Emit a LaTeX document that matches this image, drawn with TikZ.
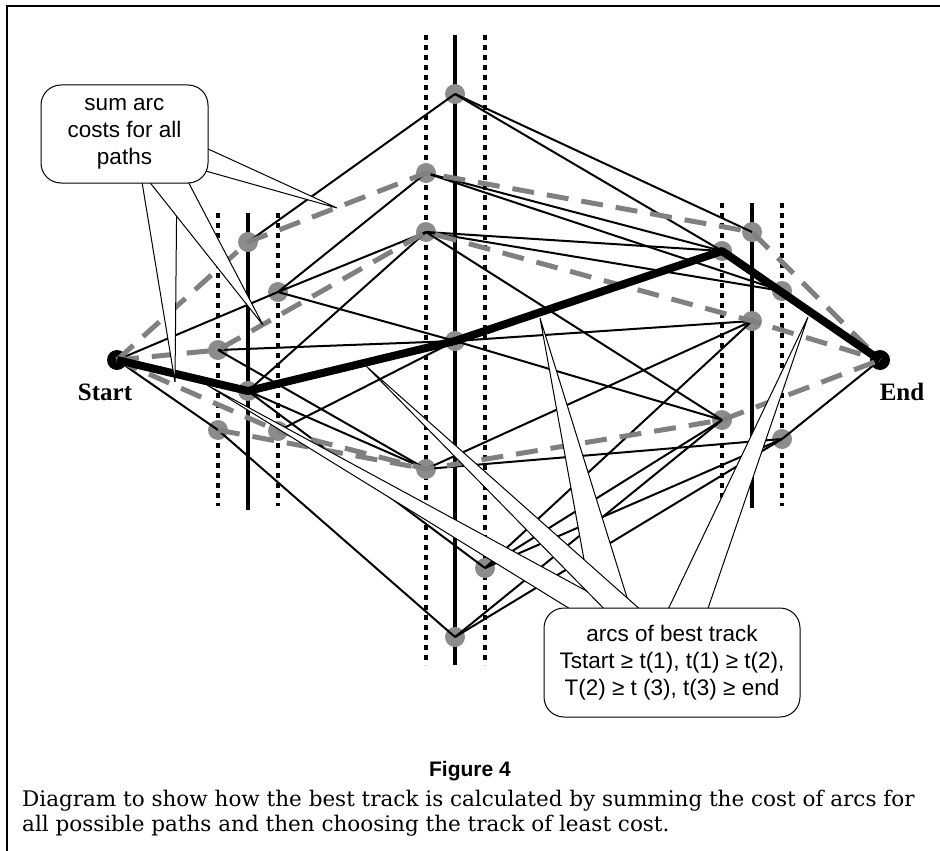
\documentclass[tikz,border=0pt]{standalone}
\usepackage{fontspec}
\setsansfont{Liberation Sans}
\newfontfamily\labelfont{Liberation Serif}
\newfontfamily\captionfont{DejaVu Serif}
\definecolor{nodegray}{RGB}{140,140,140}
\definecolor{trialgray}{RGB}{128,128,128}

\begin{document}
\begin{tikzpicture}[x=1pt,y=-1pt]
\tikzstyle{every node}+=[inner sep=0pt]
\tikzstyle{gnode}=[circle, fill=nodegray, minimum size=20pt]
\tikzstyle{endnode}=[circle, fill=black, minimum size=20pt]
\tikzstyle{arc}=[line width=2pt]
\tikzstyle{trial}=[line width=5pt, draw=trialgray, dash pattern=on 22pt off 13pt]
\tikzstyle{best}=[line width=8pt, line join=round]
\tikzstyle{axis}=[line width=4pt]
\tikzstyle{window}=[line width=4.5pt, dash pattern=on 5pt off 5pt]
\tikzstyle{tail}=[fill=white, draw=black, line width=1pt]
\tikzstyle{bubble}=[draw, fill=white, line width=1pt, rounded corners=20pt, align=center, font=\sffamily\fontsize{22.5}{27}\selectfont]
\useasboundingbox (0,0) rectangle (940,851);
% frame
\draw [line width=2pt] (7,851) -- (7,6) -- (940,6);
% time windows
\draw [window] (218,213) -- (218,506);
\draw [axis] (248,213) -- (248,510);
\draw [window] (278,213) -- (278,506);
\draw [window] (426,35) -- (426,665);
\draw [axis] (455,35) -- (455,665);
\draw [window] (485,35) -- (485,665);
\draw [window] (722,203) -- (722,506);
\draw [axis] (752,203) -- (752,508);
\draw [window] (782,203) -- (782,506);
% candidate points
\node [endnode] (start) at (117,360) {};
\node [endnode] (end) at (880,360) {};
\node [gnode] (L1) at (248,242) {};
\node [gnode] (L2) at (278,292) {};
\node [gnode] (L3) at (218,350) {};
\node [gnode] (L4) at (248,391) {};
\node [gnode] (L5) at (218,430) {};
\node [gnode] (L6) at (278,431) {};
\node [gnode] (C1) at (455,94) {};
\node [gnode] (C2) at (426,173) {};
\node [gnode] (C3) at (426,232) {};
\node [gnode] (C4) at (455,341) {};
\node [gnode] (C5) at (426,469) {};
\node [gnode] (C6) at (485,568) {};
\node [gnode] (C7) at (455,637) {};
\node [gnode] (R1) at (752,232) {};
\node [gnode] (R2) at (722,251) {};
\node [gnode] (R3) at (782,291) {};
\node [gnode] (R4) at (752,321) {};
\node [gnode] (R5) at (722,420) {};
\node [gnode] (R6) at (782,439) {};
% arcs
\draw [arc] (start.center) -- (L2.center);
\draw [arc] (start.center) -- (L5.center) -- (C7.center);
\draw [arc] (L1.center) -- (C1.center);
\draw [arc] (L2.center) -- (C2.center);
\draw [arc] (L2.center) -- (C3.center);
\draw [arc] (L2.center) -- (C4.center);
\draw [arc] (L3.center) -- (C4.center);
\draw [arc] (L3.center) -- (C5.center);
\draw [arc] (L4.center) -- (C3.center);
\draw [arc] (L4.center) -- (C5.center);
\draw [arc] (L4.center) -- (C6.center);
\draw [arc] (L6.center) -- (C4.center);
\draw [arc] (C1.center) -- (R1.center);
\draw [arc] (C1.center) -- (R2.center);
\draw [arc] (C2.center) -- (R2.center);
\draw [arc] (C2.center) -- (R3.center);
\draw [arc] (C3.center) -- (R2.center);
\draw [arc] (C3.center) -- (R3.center);
\draw [arc] (C3.center) -- (R5.center);
\draw [arc] (C4.center) -- (R4.center);
\draw [arc] (C4.center) -- (R5.center);
\draw [arc] (C5.center) -- (R4.center);
\draw [arc] (C5.center) -- (R6.center);
\draw [arc] (C6.center) -- (R4.center);
\draw [arc] (C6.center) -- (R5.center);
\draw [arc] (C6.center) -- (R6.center);
\draw [arc] (C7.center) -- (R5.center);
\draw [arc] (C7.center) -- (R6.center);
\draw [arc] (R6.center) -- (end.center);
% other tracks
\draw [trial] (start.center) -- (L1.center) -- (C2.center) -- (R1.center) -- (end.center);
\draw [trial] (start.center) -- (L3.center) -- (C3.center) -- (R4.center) -- (end.center);
\draw [trial] (start.center) -- (L6.center) -- (C5.center) -- (R5.center) -- (end.center);
\draw [trial] (L5.center) -- (C5.center);
% best track
\draw [best] (start.center) -- (L4.center) -- (C4.center) -- (R2.center) -- (end.center);
% callout: sum arc costs
\coordinate (sumtipA) at (337,208);
\coordinate (sumtipB) at (263,325);
\coordinate (sumtipC) at (175,382);
\draw [tail] (140,170) -- (sumtipC) -- (177,170);
\draw [tail] (140,170) -- (sumtipB) -- (182,170);
\draw [tail] (195,143) -- (sumtipA) -- (195,168);
\node [bubble, minimum width=167pt, minimum height=98pt] (sumbox) at (124.5,134) {sum arc\\costs for all\\paths};
% callout: arcs of best track
\coordinate (besttipA) at (207,385);
\coordinate (besttipB) at (366,366);
\coordinate (besttipC) at (540,318);
\coordinate (besttipD) at (808,317);
\draw [tail] (595,620) -- (besttipC) -- (634,620);
\draw [tail] (588,620) -- (besttipA) -- (640,620);
\draw [tail] (615,620) -- (besttipB) -- (652,620);
\draw [tail] (663,620) -- (besttipD) -- (704,620);
\node [bubble, minimum width=256pt, minimum height=109pt] (bestbox) at (672,662.5) {arcs of best track\\Tstart ≥ t(1), t(1) ≥ t(2),\\T(2) ≥ t (3), t(3) ≥ end};
% end labels
\node [anchor=base, font=\labelfont\bfseries\fontsize{25}{30}\selectfont] (startlabel) at (105,400) {Start};
\node [anchor=base, font=\labelfont\bfseries\fontsize{25}{30}\selectfont] (endlabel) at (902,400) {End};
% caption
\node [font=\sffamily\bfseries\fontsize{21}{25}\selectfont] (figlabel) at (470,771) {Figure 4};
\node [anchor=base west, align=left, font=\captionfont\fontsize{21.5}{25}\selectfont] (caption) at (22,831) {Diagram to show how the best track is calculated by summing the cost of arcs for\\all possible paths and then choosing the track of least cost.};
\end{tikzpicture}
\end{document}
